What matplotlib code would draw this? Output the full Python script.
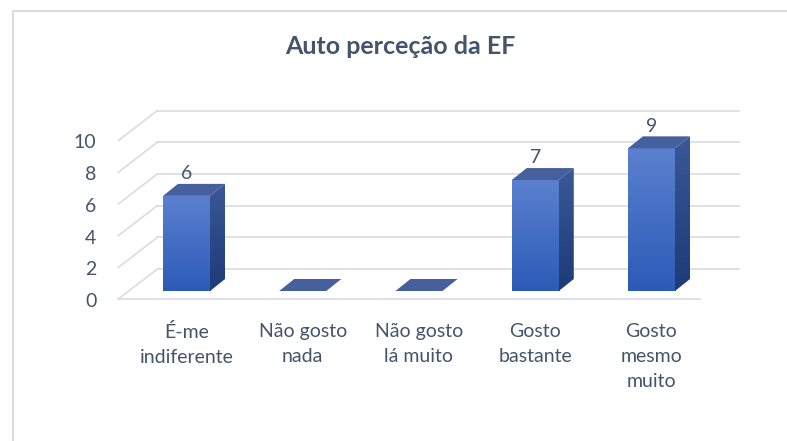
import numpy as np
import matplotlib.pyplot as plt
from matplotlib.colors import LinearSegmentedColormap
from matplotlib.patches import Polygon, Rectangle
from matplotlib.lines import Line2D

categories = ['É-me\nindiferente', 'Não gosto\nnada', 'Não gosto\nlá muito',
              'Gosto\nbastante', 'Gosto\nmesmo\nmuito']
values = [6, 0, 0, 7, 9]
yticks = [0, 2, 4, 6, 8, 10]
title = 'Auto perceção da EF'

text_color = '#44546A'
grid_color = '#D9DCE1'
plt.rcParams['font.family'] = ['Lato', 'DejaVu Sans']

W, H = 787, 441
fig = plt.figure(figsize=(W / 100, H / 100), dpi=100)

# axes for the plane the bars stand in (pixels)
left, right, bottom, top = 128.4, 709.6, 291, 132.5
ax = fig.add_axes([left / W, 1 - bottom / H, (right - left) / W, (bottom - top) / H])
ax.set_xlim(-0.5, 4.5)
ax.set_ylim(0, 10)
ax.axis('off')

# pixel sizes of one data unit
sx = (right - left) / 5
sy = (bottom - top) / 10


def off(dx_px, dy_px):
    # image pixel offset (y down) -> data units
    return dx_px / sx, -dy_px / sy


fx, fy = off(-10, 8)    # front edge of floor
bx, by = off(29, -22)   # back wall
dx, dy = off(15, -12)   # bar depth

# back wall gridlines and left side diagonals
for v in yticks:
    ax.add_line(Line2D([-0.5 + bx, 4.5 + bx], [v + by, v + by], color=grid_color,
                       lw=1.2, clip_on=False, zorder=1))
    ax.add_line(Line2D([-0.5 + fx, -0.5 + bx], [v + fy, v + by], color=grid_color,
                       lw=1.2, clip_on=False, zorder=1))
    ax.text(-0.5 + fx - 22 / sx, v + fy - 2.5 / sy, str(v), ha='right', va='center',
            fontsize=14, color=text_color)
# front edge of floor
ax.add_line(Line2D([-0.5 + fx, 4.5 + fx], [fy, fy], color=grid_color,
                   lw=1.2, clip_on=False, zorder=1))

# bars
bw = 0.405
front_cmap = LinearSegmentedColormap.from_list('front', ['#2C5BB7', '#5B80CF'])
side_cmap = LinearSegmentedColormap.from_list('side', ['#1E3A77', '#3A5897'])
grad = np.linspace(0, 1, 100).reshape(-1, 1)
for i, v in enumerate(values):
    x0, x1 = i - bw / 2, i + bw / 2
    if v > 0:
        im = ax.imshow(grad, cmap=front_cmap, origin='lower', aspect='auto',
                       extent=[x0, x1, 0, v], zorder=3)
        im.set_clip_path(Rectangle((x0, 0), bw, v, transform=ax.transData))
        side = Polygon([(x1, 0), (x1 + dx, dy), (x1 + dx, v + dy), (x1, v)],
                       transform=ax.transData)
        ims = ax.imshow(grad, cmap=side_cmap, origin='lower', aspect='auto',
                        extent=[x1, x1 + dx, 0, v + dy], zorder=3)
        ims.set_clip_path(side)
        ax.annotate(str(v), (i, v), xytext=(0, 16), textcoords='offset points',
                    ha='center', va='center', fontsize=14, color=text_color)
    topface = Polygon([(x0, v), (x1, v), (x1 + dx, v + dy), (x0 + dx, v + dy)],
                      closed=True, facecolor='#45609C', edgecolor='none',
                      zorder=4, clip_on=False)
    ax.add_patch(topface)
    ax.text(i, -2.05, categories[i], ha='center', va='top', fontsize=14,
            color=text_color, linespacing=1.55)

ax.set_xlim(-0.5, 4.5)
ax.set_ylim(0, 10)

fig.text(400 / W, 1 - 47 / H, title, ha='center', va='center', fontsize=18,
         fontweight='bold', color=text_color)

# chart border (only left and top visible)
fig.add_artist(Line2D([12.5 / W, 12.5 / W], [0, 1 - 10.5 / H], color=grid_color,
                      lw=1.5, transform=fig.transFigure))
fig.add_artist(Line2D([12.5 / W, 1], [1 - 10.5 / H, 1 - 10.5 / H], color=grid_color,
                      lw=1.5, transform=fig.transFigure))

fig.savefig('out.png', dpi=100)
